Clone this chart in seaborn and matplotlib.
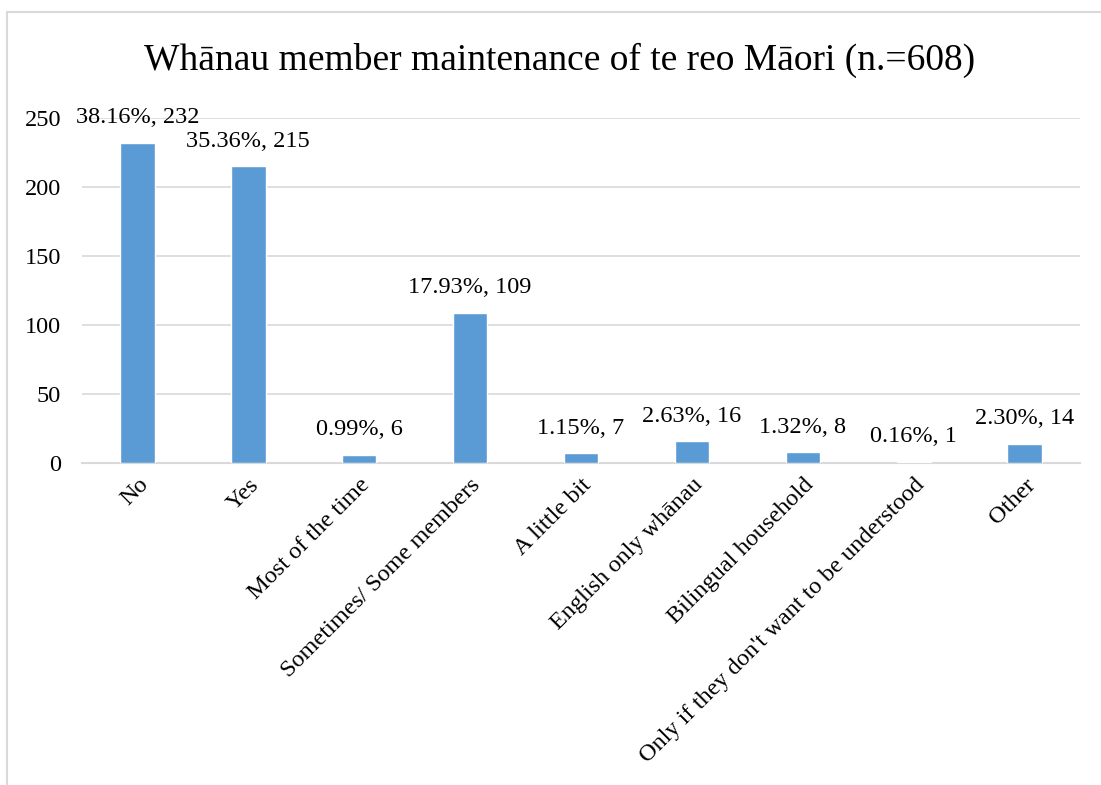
import matplotlib
matplotlib.use("Agg")
import matplotlib.pyplot as plt
import seaborn as sns
import pandas as pd
from matplotlib.patches import Rectangle

categories = ["No", "Yes", "Most of the time", "Sometimes/ Some members", "A little bit",
              "English only whānau", "Bilingual household",
              "Only if they don't want to be understood", "Other"]
counts = [232, 215, 6, 109, 7, 16, 8, 1, 14]
percents = ["38.16%", "35.36%", "0.99%", "17.93%", "1.15%", "2.63%", "1.32%", "0.16%", "2.30%"]
yticks = [0, 50, 100, 150, 200, 250]
title = "Whānau member maintenance of te reo Māori (n.=608)"

sns.set_theme(style="white")
plt.rcParams['font.family'] = ['Liberation Serif', 'DejaVu Serif']
plt.rcParams['text.color'] = 'black'
plt.rcParams['xtick.color'] = 'black'
plt.rcParams['ytick.color'] = 'black'

df = pd.DataFrame({"cat": categories, "count": counts})

fig = plt.figure(figsize=(11.01, 7.85), dpi=100)
ax = fig.add_axes([0.0745, 0.410, 0.9065, 0.4397])

sns.barplot(data=df, x="cat", y="count", color="#5B9BD5", width=0.31, ax=ax,
            saturation=1, zorder=3)

ax.set_ylim(0, 250)
ax.set_yticks(yticks)
ax.set_xlim(-0.5, len(categories) - 0.5)
ax.grid(axis="y", color="#D9D9D9", linewidth=1.2, zorder=0)
ax.grid(axis="x", visible=False)
for s in ["top", "right", "left"]:
    ax.spines[s].set_visible(False)
ax.spines["bottom"].set_color("#D9D9D9")
ax.spines["bottom"].set_linewidth(1.5)
ax.set_xlabel("")
ax.set_ylabel("")
ax.tick_params(axis="y", length=0, pad=15, labelsize=17.5, labelcolor="black")
ax.tick_params(axis="x", length=0, pad=8, labelsize=17.5, labelcolor="black")
plt.setp(ax.get_xticklabels(), rotation=45, ha="right", rotation_mode="anchor")

for i, (c, p) in enumerate(zip(counts, percents)):
    ax.annotate(f"{p}, {c}", (i, c), xytext=(0, 18), textcoords="offset points",
                ha="center", va="center", fontsize=17.5, color="black")

fig.text(0.508, 0.9236, title, ha="center", va="center", fontsize=27, color="black")

fig.patches.append(Rectangle((7 / 1101, -0.1), 1.2, (1 - 12 / 785) + 0.1,
                             transform=fig.transFigure, fill=False,
                             edgecolor="#D9D9D9", linewidth=1.5))

fig.savefig("out.png", dpi=100)
